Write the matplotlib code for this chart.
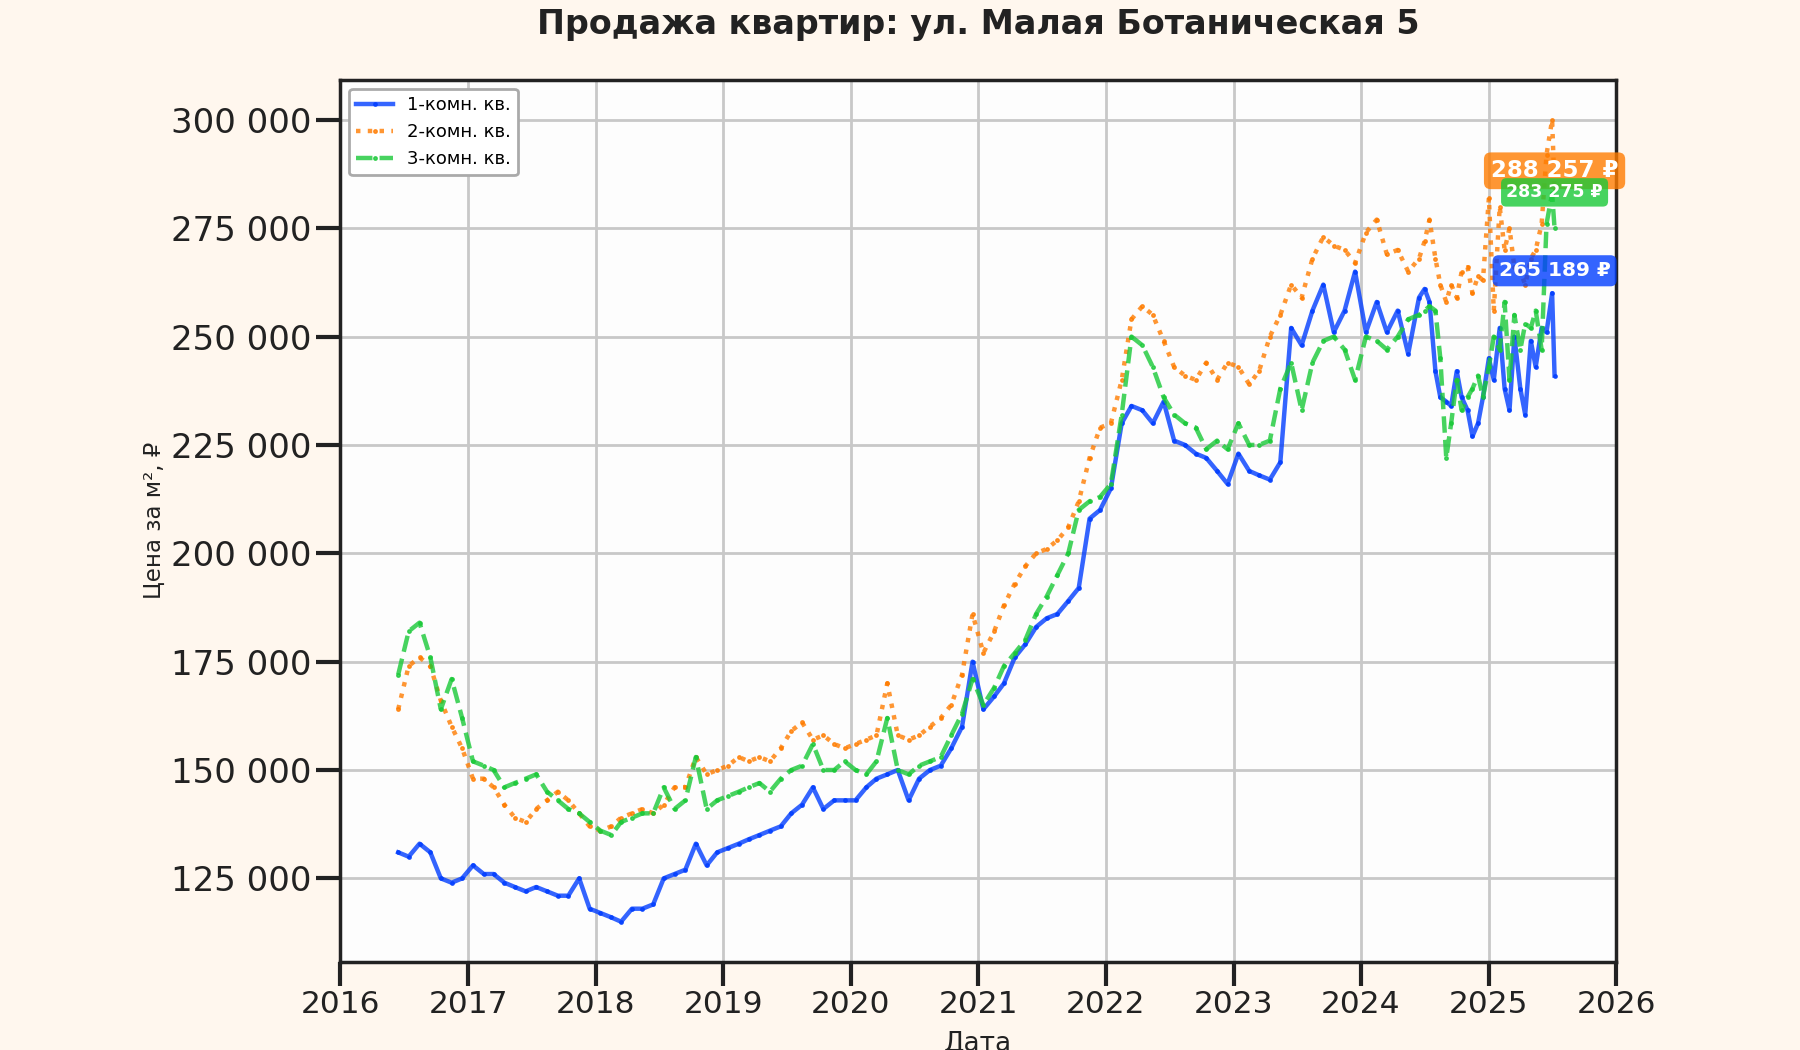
import matplotlib
matplotlib.use("Agg")
import matplotlib.pyplot as plt
import matplotlib.dates as mdates
from matplotlib.ticker import FuncFormatter
import pandas as pd

# даты: помесячно до середины 2024, дальше раз в две недели
dates_monthly = pd.date_range('2016-06-01', '2024-06-01', freq='MS') + pd.Timedelta(days=14)
dates_semi = pd.to_datetime([
    '2024-07-01', '2024-07-15', '2024-08-01', '2024-08-15', '2024-09-01', '2024-09-15',
    '2024-10-01', '2024-10-15', '2024-11-01', '2024-11-15', '2024-12-01', '2024-12-15',
    '2025-01-01', '2025-01-15', '2025-02-01', '2025-02-15', '2025-03-01', '2025-03-15',
    '2025-04-01', '2025-04-15', '2025-05-01', '2025-05-15', '2025-06-01', '2025-06-15',
    '2025-07-01', '2025-07-08'])
dates = dates_monthly.append(dates_semi)

# цены, тыс. руб за м2
room1 = [131, 130, 133, 131, 125, 124, 125,
         128, 126, 126, 124, 123, 122, 123, 122, 121, 121, 125, 118,
         117, 116, 115, 118, 118, 119, 125, 126, 127, 133, 128, 131,
         132, 133, 134, 135, 136, 137, 140, 142, 146, 141, 143, 143,
         143, 146, 148, 149, 150, 143, 148, 150, 151, 155, 160, 175,
         164, 167, 170, 176, 179, 183, 185, 186, 189, 192, 208, 210,
         215, 230, 234, 233, 230, 235, 226, 225, 223, 222, 219, 216,
         223, 219, 218, 217, 221, 252, 248, 256, 262, 251, 256, 265,
         251, 258, 251, 256, 246, 259,
         261, 258, 242, 236, 235, 234, 242, 236, 233, 227, 230, 236,
         245, 240, 252, 238, 233, 250, 238, 232, 249, 243, 252, 251, 260, 241]
room2 = [164, 174, 176, 174, 166, 160, 155,
         148, 148, 146, 142, 139, 138, 141, 143, 145, 143, 140, 137,
         136, 137, 139, 140, 141, 140, 142, 146, 146, 153, 149, 150,
         151, 153, 152, 153, 152, 155, 159, 161, 157, 158, 156, 155,
         156, 157, 158, 170, 158, 157, 158, 160, 162, 165, 172, 186,
         177, 182, 188, 193, 197, 200, 201, 203, 206, 212, 222, 229,
         230, 240, 254, 257, 255, 249, 243, 241, 240, 244, 240, 244,
         243, 239, 242, 250, 255, 262, 259, 268, 273, 271, 270, 267,
         274, 277, 269, 270, 265, 268,
         272, 277, 268, 262, 258, 262, 259, 265, 266, 260, 264, 263,
         282, 256, 280, 270, 275, 266, 265, 262, 268, 270, 276, 292, 300, 284]
room3 = [172, 182, 184, 176, 164, 171, 162,
         152, 151, 150, 146, 147, 148, 149, 145, 143, 141, 140, 138,
         136, 135, 138, 139, 140, 140, 146, 141, 143, 153, 141, 143,
         144, 145, 146, 147, 145, 148, 150, 151, 156, 150, 150, 152,
         150, 149, 152, 162, 150, 149, 151, 152, 153, 158, 163, 171,
         165, 169, 174, 177, 180, 186, 190, 195, 200, 210, 212, 213,
         216, 232, 250, 248, 243, 236, 232, 230, 229, 224, 226, 224,
         230, 225, 225, 226, 238, 244, 233, 244, 249, 250, 247, 240,
         250, 249, 247, 250, 254, 255,
         256, 257, 256, 245, 222, 230, 240, 233, 236, 238, 241, 236,
         243, 250, 247, 258, 240, 255, 247, 253, 252, 256, 247, 276, 283, 275]

series_names = ['1-комн. кв.', '2-комн. кв.', '3-комн. кв.']
label_values = [265189, 288257, 283275]

colors = ['#023eff', '#ff7c00', '#1ac938']
styles = ['-', ':', '--']
label_sizes = [14.5, 16.5, 12.5]

plt.rcParams['font.family'] = ['DejaVu Sans']

fig = plt.figure(figsize=(18, 10.5), dpi=100, facecolor='#fff7ee')
ax = fig.add_axes([0.189, 0.084, 0.709, 0.84])
ax.set_facecolor('#fdfdfd')

for vals, name, c, ls in zip([room1, room2, room3], series_names, colors, styles):
    ax.plot(dates, [v * 1000 for v in vals], ls, color=c, lw=3.2, marker='.',
            markersize=5, alpha=0.8, label=name)

last = dates[-1]
for val, c, fs, z in zip(label_values, colors, label_sizes, [5, 5, 6]):
    ax.text(last, val, f"{val:,}".replace(",", " ") + " ₽", ha='center', va='center',
            color='white', fontsize=fs, fontweight='bold', zorder=z,
            bbox=dict(boxstyle='round,pad=0.3', fc=c, ec='none', alpha=0.8))

ax.set_xlim(pd.Timestamp('2016-01-01'), pd.Timestamp('2026-01-01'))
ax.xaxis.set_major_locator(mdates.YearLocator())
ax.xaxis.set_major_formatter(mdates.DateFormatter('%Y'))
ax.yaxis.set_major_formatter(FuncFormatter(lambda x, p: f"{x:,.0f}".replace(",", " ")))

ax.grid(True, color='#c8c8c8', lw=2)
ax.set_axisbelow(True)
ax.tick_params(length=17, width=3, color='#222222', labelcolor='#222222')
ax.tick_params(axis='x', labelsize=22.5)
ax.tick_params(axis='y', labelsize=24.5)
for s in ax.spines.values():
    s.set_linewidth(2.5)
    s.set_color('#222222')

ax.set_title('Продажа квартир: ул. Малая Ботаническая 5', fontsize=24,
             fontweight='bold', color='#222222', pad=33)
ax.set_xlabel('Дата', fontsize=19, color='#222222', labelpad=8)
ax.set_ylabel('Цена за м², ₽', fontsize=16.5, color='#222222')

leg = ax.legend(loc='upper left', fontsize=13, framealpha=1, edgecolor='#aaaaaa')
leg.get_frame().set_linewidth(2)

plt.savefig('out.png', facecolor=fig.get_facecolor())
